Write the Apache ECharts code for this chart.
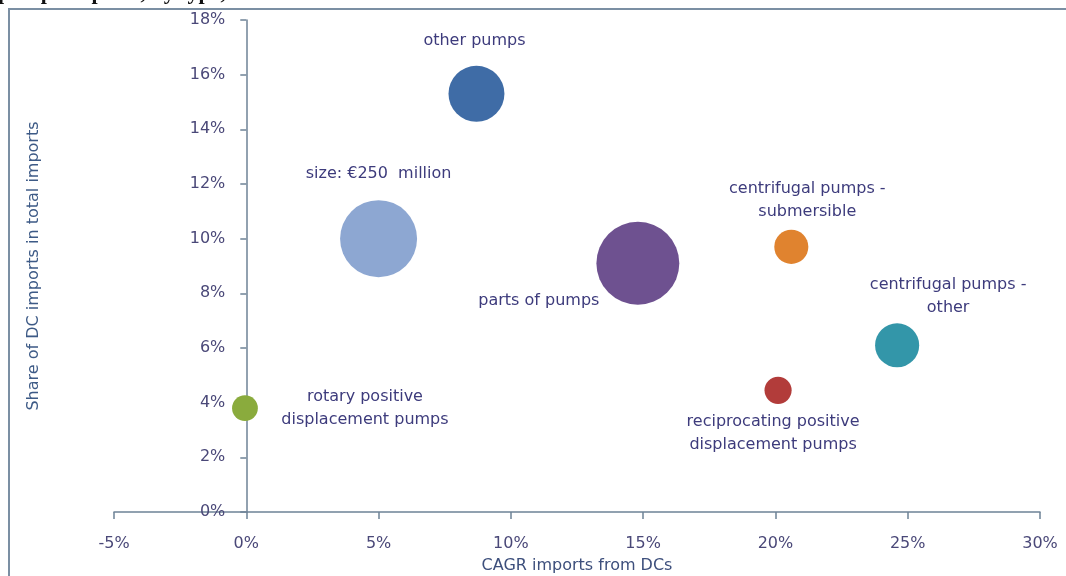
<!DOCTYPE html>
<html>
<head>
<meta charset="utf-8">
<script src="https://cdn.jsdelivr.net/npm/echarts@6/dist/echarts.min.js"></script>
<style>
  html, body { margin: 0; padding: 0; background: #ffffff; }
  #chart { width: 1066px; height: 576px; }
</style>
</head>
<body>
<div id="chart"></div>
<script>
// Pump product groups: growth of imports from developing countries vs. their share
const productNames = [
  'other pumps',
  'size: €250  million',
  'parts of pumps',
  'centrifugal pumps -\nsubmersible',
  'centrifugal pumps -\nother',
  'reciprocating positive\ndisplacement pumps',
  'rotary positive\ndisplacement pumps'
];
// CAGR of imports from DCs (%)
const cagrValues = [8.7, 5.0, 14.8, 20.6, 24.6, 20.1, -0.05];
// Share of DC imports in total imports (%)
const shareValues = [15.3, 10.0, 9.1, 9.7, 6.1, 4.45, 3.8];
// Import value (€ million) - bubble area
const importValues = [132, 250, 290, 49, 82, 31, 28];

const xTicks = { min: -5, max: 30, interval: 5 };
const yTicks = { min: 0, max: 18, interval: 2 };

// Styling per bubble (colour and label shift from the bubble centre)
const bubbleColors = ['#3f6ca6', '#8da7d2', '#6e5190', '#e0832f', '#3396a9', '#b23c3a', '#8aab3d'];
const labelOffsets = [[-2, -53], [0, -65], [-99, 38], [16, -47], [51, -49], [-5, 43], [120, 0]];

const REF_VALUE = 250;
const REF_DIAMETER = 77;

const gridBox = { left: 114, right: 26, top: 20, bottom: 64 };
const chartWidth = 1066;
// The vertical axis sits on x = 0, so shift it right from the grid's left edge
const plotWidth = chartWidth - gridBox.left - gridBox.right;
const yAxisShift = -(0 - xTicks.min) / (xTicks.max - xTicks.min) * plotWidth;

const textColor = '#3d3b7c';
const tickColor = '#4a4878';
const axisColor = '#6e8296';
const fontFamily = '"DejaVu Sans", Verdana, sans-serif';

const chart = echarts.init(document.getElementById('chart'), null, { renderer: 'canvas' });

const points = productNames.map((name, i) => ({
  name: name,
  value: [cagrValues[i], shareValues[i], importValues[i]],
  itemStyle: { color: bubbleColors[i] }
}));

chart.setOption({
  animation: false,
  backgroundColor: '#ffffff',
  graphic: [
    {
      type: 'text',
      left: -2,
      top: -18,
      style: {
        text: 'pumps imports, by type,',
        font: 'bold 22px "Liberation Serif", "DejaVu Serif", serif',
        fill: '#111111'
      }
    },
    {
      type: 'polyline',
      shape: { points: [[9, 576], [9, 9], [1066, 9]] },
      style: { stroke: '#7b8fa3', lineWidth: 2, fill: null }
    }
  ],
  grid: Object.assign({ containLabel: false, outerBoundsMode: 'none' }, gridBox),
  xAxis: {
    type: 'value',
    min: xTicks.min,
    max: xTicks.max,
    interval: xTicks.interval,
    name: 'CAGR imports from DCs',
    nameLocation: 'middle',
    nameGap: 46,
    nameTextStyle: { color: '#3d4f7c', fontSize: 16, fontFamily: fontFamily },
    axisLine: { show: true, onZero: false, lineStyle: { color: axisColor, width: 1.5 } },
    axisTick: { show: true, inside: false, length: 7, lineStyle: { color: axisColor, width: 1.5 } },
    axisLabel: {
      color: tickColor, fontSize: 16, fontFamily: fontFamily, margin: 24,
      formatter: v => v + '%'
    },
    splitLine: { show: false }
  },
  yAxis: {
    type: 'value',
    min: yTicks.min,
    max: yTicks.max,
    interval: yTicks.interval,
    offset: yAxisShift,
    name: 'Share of DC imports in total imports',
    nameLocation: 'middle',
    nameGap: 204,
    nameRotate: 90,
    nameTextStyle: { color: '#3d5a86', fontSize: 16, fontFamily: fontFamily },
    axisLine: { show: true, onZero: false, lineStyle: { color: axisColor, width: 1.5 } },
    axisTick: { show: true, inside: false, length: 6, lineStyle: { color: axisColor, width: 1.5 } },
    axisLabel: {
      color: tickColor, fontSize: 16, fontFamily: fontFamily, margin: 21,
      formatter: v => v + '%'
    },
    splitLine: { show: false }
  },
  series: [{
    type: 'scatter',
    data: points,
    symbol: 'circle',
    symbolSize: v => REF_DIAMETER * Math.sqrt(v[2] / REF_VALUE),
    itemStyle: { opacity: 1 },
    label: {
      show: true,
      position: 'inside',
      formatter: p => p.name,
      color: textColor,
      fontSize: 16,
      fontFamily: fontFamily,
      lineHeight: 23,
      align: 'center',
      verticalAlign: 'middle'
    },
    labelLayout: params => ({
      dx: labelOffsets[params.dataIndex][0],
      dy: labelOffsets[params.dataIndex][1],
      hideOverlap: false
    }),
    emphasis: { disabled: true }
  }]
});
</script>
</body>
</html>
